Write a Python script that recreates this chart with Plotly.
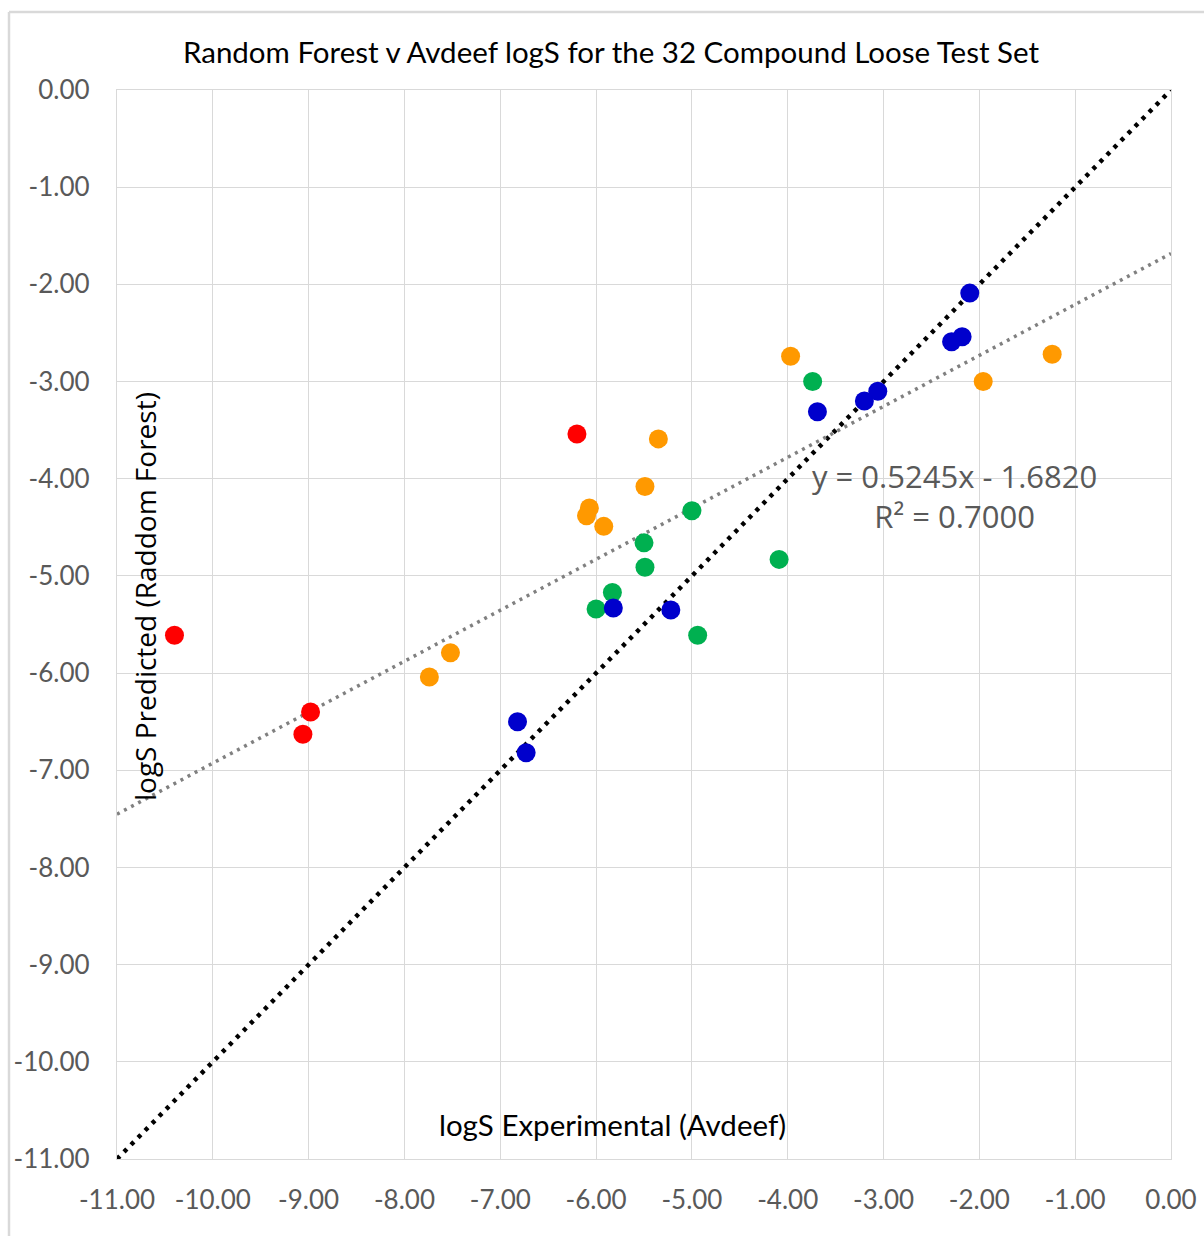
import plotly.graph_objects as go

# Experimental (Avdeef) vs Random Forest predicted logS, grouped by colour class
red_x = [-10.40, -6.20, -8.98, -9.06]
red_y = [-5.61, -3.54, -6.40, -6.63]

orange_x = [-3.97, -1.24, -1.96, -5.35, -5.49, -6.07, -6.10, -5.92, -7.52, -7.74]
orange_y = [-2.74, -2.72, -3.00, -3.59, -4.08, -4.30, -4.38, -4.49, -5.79, -6.04]

green_x = [-3.74, -5.00, -5.50, -5.49, -4.09, -5.83, -6.00, -4.94]
green_y = [-3.00, -4.33, -4.66, -4.91, -4.83, -5.17, -5.34, -5.61]

blue_x = [-2.10, -2.18, -2.29, -3.06, -3.20, -3.69, -5.82, -5.22, -6.82, -6.73]
blue_y = [-2.09, -2.54, -2.59, -3.10, -3.20, -3.31, -5.33, -5.35, -6.50, -6.82]

# Linear trendline reported on the chart
slope = 0.5245
intercept = -1.6820
r_squared = 0.7000

axis_min, axis_max = -11.0, 0.0
tick_vals = [-11, -10, -9, -8, -7, -6, -5, -4, -3, -2, -1, 0]
tick_text = [f"{v:.2f}" for v in tick_vals]

W, H = 1204, 1236
L, R, T, B = 117, 1171, 90, 1159   # plot-area edges in pixels
PW, PH = R - L, B - T


def px_x(px):
    return (px - L) / PW


def px_y(py):
    return (B - py) / PH


fig = go.Figure()

# y = x reference line
fig.add_trace(go.Scatter(
    x=[axis_min, axis_max], y=[axis_min, axis_max], mode="lines",
    line=dict(color="black", width=4.5, dash="4px,6px"),
    hoverinfo="skip", showlegend=False,
))

# fitted trendline
fig.add_trace(go.Scatter(
    x=[axis_min, axis_max],
    y=[slope * axis_min + intercept, slope * axis_max + intercept],
    mode="lines",
    line=dict(color="#808080", width=3.5, dash="3px,5px"),
    hoverinfo="skip", showlegend=False,
))

for xs, ys, col in [
    (red_x, red_y, "#FF0000"),
    (orange_x, orange_y, "#FF9900"),
    (green_x, green_y, "#00B050"),
    (blue_x, blue_y, "#0000CC"),
]:
    fig.add_trace(go.Scatter(
        x=xs, y=ys, mode="markers",
        marker=dict(color=col, size=19, line=dict(width=0)),
        showlegend=False,
    ))

axis_common = dict(
    range=[axis_min, axis_max],
    tickmode="array",
    tickvals=tick_vals,
    ticktext=tick_text,
    showgrid=True,
    gridcolor="#D9D9D9",
    gridwidth=1.3,
    zeroline=False,
    showline=True,
    linecolor="#D9D9D9",
    linewidth=1.3,
    mirror=True,
    ticks="",
    automargin=False,
    tickfont=dict(family="Lato", size=26, color="#595959"),
)

fig.update_layout(
    width=W,
    height=H,
    margin=dict(l=L, r=W - R, t=T, b=H - B),
    paper_bgcolor="white",
    plot_bgcolor="white",
    xaxis=dict(**axis_common, ticklabelstandoff=18),
    yaxis=dict(**axis_common, ticklabelstandoff=21),
    title=dict(
        text="Random Forest v Avdeef logS for the 32 Compound Loose Test Set",
        x=611 / W, xref="container", xanchor="center",
        y=1 - 53 / H, yref="container", yanchor="middle",
        font=dict(family="Lato", size=29.5, color="black"),
    ),
    shapes=[
        dict(type="line", xref="paper", yref="paper",
             x0=px_x(9), x1=px_x(9), y0=px_y(1300), y1=px_y(12),
             line=dict(color="#D9D9D9", width=2.5), layer="below"),
        dict(type="line", xref="paper", yref="paper",
             x0=px_x(9), x1=px_x(1300), y0=px_y(12), y1=px_y(12),
             line=dict(color="#D9D9D9", width=2.5), layer="below"),
    ],
    annotations=[
        dict(text="logS Experimental (Avdeef)", xref="paper", yref="paper",
             x=px_x(612), y=px_y(1124),
             xanchor="center", yanchor="middle", showarrow=False,
             font=dict(family="Lato", size=29.5, color="black")),
        dict(text="logS Predicted (Raddom Forest)", xref="paper", yref="paper",
             x=px_x(145), y=px_y(597), textangle=-90,
             xanchor="center", yanchor="middle", showarrow=False,
             font=dict(family="Open Sans", size=28, color="black")),
        dict(text=f"y = {slope:.4f}x - {abs(intercept):.4f}<br>R² = {r_squared:.4f}",
             xref="paper", yref="paper",
             x=px_x(954), y=px_y(496),
             xanchor="center", yanchor="middle", align="center", showarrow=False,
             font=dict(family="Open Sans", size=31, color="#595959")),
    ],
)

fig.write_html("out.html")
